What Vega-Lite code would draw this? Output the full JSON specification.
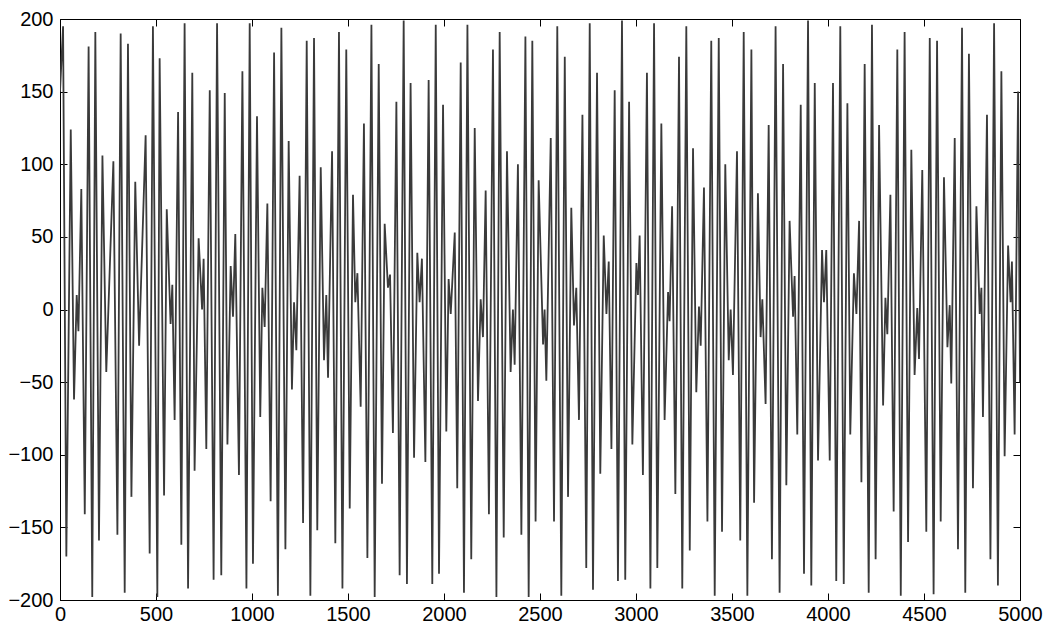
{
 "$schema": "https://vega.github.io/schema/vega-lite/v6.json",
 "width": 960,
 "height": 581,
 "autosize": {"type": "none"},
 "padding": {"left": 60, "top": 19, "right": 30, "bottom": 27},
 "background": "white",
 "config": {
  "view": {"stroke": "black", "strokeWidth": 1},
  "axis": {"labelFont": "Liberation Sans", "labelFontSize": 20, "labelColor": "black", "tickColor": "black", "domainColor": "black", "grid": false, "title": null, "format": "d"}
 },
 "data": {"values": [
{"t":0,"v":150},{"t":16,"v":195},{"t":33,"v":-170},{"t":56,"v":124},{"t":73,"v":-62},{"t":87,"v":10},{"t":96,"v":-15},{"t":111,"v":83},{"t":129,"v":-141},{"t":149,"v":181},{"t":168,"v":-198},{"t":184,"v":191},{"t":203,"v":-159},{"t":221,"v":106},{"t":241,"v":-43},{"t":278,"v":102},{"t":299,"v":-155},{"t":316,"v":190},{"t":337,"v":-195},{"t":354,"v":183},{"t":372,"v":-129},{"t":392,"v":88},{"t":412,"v":-25},{"t":446,"v":120},{"t":467,"v":-168},{"t":484,"v":195},{"t":507,"v":-198},{"t":519,"v":173},{"t":542,"v":-128},{"t":556,"v":69},{"t":576,"v":-10},{"t":585,"v":17},{"t":597,"v":-76},{"t":615,"v":136},{"t":632,"v":-162},{"t":649,"v":197},{"t":667,"v":-192},{"t":689,"v":163},{"t":701,"v":-111},{"t":722,"v":49},{"t":740,"v":0},{"t":748,"v":35},{"t":762,"v":-96},{"t":780,"v":151},{"t":800,"v":-186},{"t":818,"v":197},
{"t":840,"v":-183},{"t":858,"v":149},{"t":872,"v":-93},{"t":889,"v":30},{"t":901,"v":-5},{"t":913,"v":52},{"t":932,"v":-114},{"t":950,"v":164},{"t":971,"v":-192},{"t":988,"v":197},{"t":1005,"v":-175},{"t":1026,"v":133},{"t":1043,"v":-74},{"t":1054,"v":15},{"t":1066,"v":-12},{"t":1080,"v":73},{"t":1097,"v":-132},{"t":1115,"v":177},{"t":1135,"v":-197},{"t":1153,"v":194},{"t":1174,"v":-165},{"t":1191,"v":116},{"t":1208,"v":-55},{"t":1219,"v":5},{"t":1231,"v":-28},{"t":1248,"v":92},{"t":1266,"v":-147},{"t":1285,"v":185},{"t":1304,"v":-197},{"t":1323,"v":187},{"t":1340,"v":-152},{"t":1358,"v":98},{"t":1375,"v":-35},{"t":1387,"v":10},{"t":1396,"v":-47},{"t":1417,"v":109},{"t":1434,"v":-161},{"t":1453,"v":191},{"t":1471,"v":-192},{"t":1491,"v":179},{"t":1509,"v":-137},{"t":1526,"v":79},{"t":1538,"v":5},{"t":1549,"v":25},{"t":1566,"v":-67},{"t":1583,"v":128},{"t":1601,"v":-171},{"t":1622,"v":196},{"t":1639,"v":-198},{"t":1660,"v":169},
{"t":1677,"v":-120},{"t":1691,"v":59},{"t":1708,"v":15},{"t":1719,"v":24},{"t":1734,"v":-85},{"t":1752,"v":143},{"t":1769,"v":-183},{"t":1790,"v":199},{"t":1807,"v":-189},{"t":1826,"v":156},{"t":1844,"v":-102},{"t":1861,"v":39},{"t":1873,"v":5},{"t":1885,"v":35},{"t":1903,"v":-105},{"t":1920,"v":158},{"t":1939,"v":-189},{"t":1957,"v":196},{"t":1974,"v":-182},{"t":1995,"v":141},{"t":2012,"v":-84},{"t":2024,"v":21},{"t":2035,"v":-3},{"t":2056,"v":53},{"t":2069,"v":-123},{"t":2087,"v":170},{"t":2104,"v":-195},{"t":2122,"v":196},{"t":2142,"v":-172},{"t":2160,"v":125},{"t":2177,"v":-63},{"t":2191,"v":7},{"t":2203,"v":-19},{"t":2217,"v":82},{"t":2234,"v":-141},{"t":2255,"v":179},{"t":2273,"v":-198},{"t":2290,"v":191},{"t":2311,"v":-157},{"t":2328,"v":109},{"t":2347,"v":-43},{"t":2359,"v":0},{"t":2368,"v":-38},{"t":2385,"v":100},{"t":2403,"v":-155},{"t":2424,"v":188},{"t":2441,"v":-198},{"t":2460,"v":185},{"t":2477,"v":-146},{"t":2493,"v":89},
{"t":2516,"v":-24},{"t":2524,"v":0},{"t":2533,"v":-49},{"t":2556,"v":118},{"t":2573,"v":-146},{"t":2590,"v":195},{"t":2611,"v":-197},{"t":2629,"v":174},{"t":2646,"v":-129},{"t":2663,"v":70},{"t":2677,"v":-11},{"t":2689,"v":15},{"t":2703,"v":-76},{"t":2721,"v":134},{"t":2741,"v":-178},{"t":2759,"v":197},{"t":2776,"v":-193},{"t":2797,"v":163},{"t":2814,"v":-113},{"t":2832,"v":51},{"t":2846,"v":-3},{"t":2858,"v":33},{"t":2872,"v":-96},{"t":2889,"v":151},{"t":2906,"v":-187},{"t":2927,"v":199},{"t":2944,"v":-186},{"t":2964,"v":143},{"t":2981,"v":-93},{"t":3002,"v":32},{"t":3010,"v":10},{"t":3019,"v":51},{"t":3036,"v":-114},{"t":3057,"v":163},{"t":3075,"v":-192},{"t":3094,"v":197},{"t":3111,"v":-178},{"t":3132,"v":128},{"t":3149,"v":-76},{"t":3167,"v":12},{"t":3175,"v":-8},{"t":3188,"v":71},{"t":3205,"v":-127},{"t":3224,"v":174},{"t":3241,"v":-192},{"t":3262,"v":195},{"t":3280,"v":-166},{"t":3297,"v":111},{"t":3314,"v":-57},{"t":3328,"v":2},
{"t":3337,"v":-25},{"t":3354,"v":84},{"t":3372,"v":-146},{"t":3392,"v":185},{"t":3410,"v":-197},{"t":3431,"v":187},{"t":3448,"v":-153},{"t":3465,"v":100},{"t":3483,"v":-35},{"t":3493,"v":0},{"t":3505,"v":-45},{"t":3526,"v":109},{"t":3543,"v":-159},{"t":3561,"v":191},{"t":3580,"v":-197},{"t":3601,"v":179},{"t":3615,"v":-133},{"t":3635,"v":80},{"t":3649,"v":-19},{"t":3658,"v":7},{"t":3675,"v":-65},{"t":3691,"v":127},{"t":3708,"v":-172},{"t":3727,"v":195},{"t":3748,"v":-195},{"t":3766,"v":169},{"t":3783,"v":-121},{"t":3800,"v":61},{"t":3818,"v":-5},{"t":3826,"v":23},{"t":3840,"v":-86},{"t":3858,"v":141},{"t":3875,"v":-182},{"t":3896,"v":199},{"t":3913,"v":-190},{"t":3931,"v":156},{"t":3948,"v":-104},{"t":3969,"v":41},{"t":3979,"v":5},{"t":3991,"v":41},{"t":4009,"v":-104},{"t":4026,"v":156},{"t":4043,"v":-187},{"t":4064,"v":195},{"t":4082,"v":-189},{"t":4101,"v":142},{"t":4116,"v":-86},{"t":4135,"v":25},{"t":4148,"v":-3},{"t":4162,"v":61},
{"t":4174,"v":-119},{"t":4191,"v":169},{"t":4212,"v":-195},{"t":4229,"v":196},{"t":4248,"v":-172},{"t":4266,"v":127},{"t":4287,"v":-66},{"t":4299,"v":8},{"t":4309,"v":-17},{"t":4325,"v":79},{"t":4342,"v":-139},{"t":4361,"v":179},{"t":4379,"v":-197},{"t":4399,"v":191},{"t":4417,"v":-160},{"t":4434,"v":110},{"t":4451,"v":-45},{"t":4465,"v":1},{"t":4474,"v":-34},{"t":4491,"v":96},{"t":4512,"v":-153},{"t":4530,"v":187},{"t":4550,"v":-196},{"t":4568,"v":185},{"t":4587,"v":-146},{"t":4604,"v":91},{"t":4622,"v":-26},{"t":4634,"v":3},{"t":4642,"v":-51},{"t":4660,"v":118},{"t":4677,"v":-165},{"t":4698,"v":194},{"t":4715,"v":-195},{"t":4734,"v":176},{"t":4755,"v":-123},{"t":4773,"v":71},{"t":4790,"v":-3},{"t":4799,"v":15},{"t":4807,"v":-74},{"t":4828,"v":134},{"t":4846,"v":-172},{"t":4865,"v":197},{"t":4885,"v":-190},{"t":4903,"v":164},{"t":4920,"v":-101},{"t":4938,"v":44},{"t":4951,"v":5},{"t":4958,"v":33},{"t":4972,"v":-86},{"t":4990,"v":150},{"t":5000,"v":-50}
 ]},
 "layer": [
  {
   "mark": {"type": "line", "color": "#3a3a3a", "strokeWidth": 1.8, "clip": true},
   "encoding": {
    "x": {"field": "t", "type": "quantitative", "scale": {"domain": [0, 5000], "nice": false, "zero": false},
      "axis": {"orient": "bottom", "values": [0,500,1000,1500,2000,2500,3000,3500,4000,4500,5000], "tickSize": -7, "labelPadding": 11, "domain": true, "labelFlush": false, "labelOverlap": false}},
    "y": {"field": "v", "type": "quantitative", "scale": {"domain": [-200, 200], "nice": false, "zero": false},
      "axis": {"orient": "left", "values": [-200,-150,-100,-50,0,50,100,150,200], "tickSize": -7, "labelPadding": 14, "domain": true, "labelFlush": false, "labelOverlap": false}}
   }
  },
  {
   "mark": {"type": "line", "strokeOpacity": 0},
   "encoding": {
    "x": {"field": "t", "type": "quantitative", "axis": {"orient": "top", "values": [0,500,1000,1500,2000,2500,3000,3500,4000,4500,5000], "tickSize": -7, "labels": false, "domain": false}},
    "y": {"field": "v", "type": "quantitative", "axis": {"orient": "right", "values": [-200,-150,-100,-50,0,50,100,150,200], "tickSize": -7, "labels": false, "domain": false}}
   }
  }
 ],
 "resolve": {"axis": {"x": "independent", "y": "independent"}}
}
